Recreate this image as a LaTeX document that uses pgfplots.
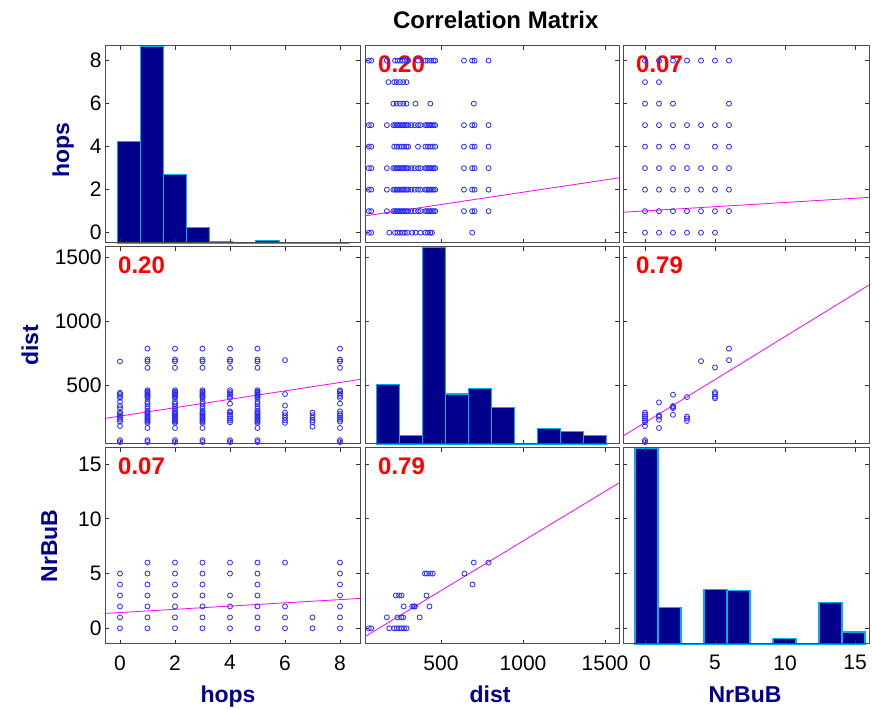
\documentclass[border=0pt]{standalone}
\usepackage{pgfplots}
\usepackage{pgfplotstable}
\pgfplotsset{compat=1.18}
\usepackage{fontspec}
\setmainfont{Liberation Sans}
\definecolor{barnavy}{RGB}{0,0,140}
\definecolor{labnavy}{RGB}{0,0,140}
\definecolor{magline}{RGB}{255,0,255}
\definecolor{ptblue}{RGB}{40,40,255}

% (hops, dist) pairs
\pgfplotstableread[row sep=\\]{
h d\\
0 60\\ 0 75\\ 0 185\\ 0 220\\ 0 235\\ 0 250\\ 0 265\\ 0 280\\ 0 295\\ 0 325\\ 0 345\\ 0 375\\ 0 405\\ 0 420\\ 0 435\\ 0 445\\ 0 690\\
1 60\\ 1 75\\ 1 170\\ 1 210\\ 1 220\\ 1 230\\ 1 240\\ 1 250\\ 1 260\\ 1 270\\ 1 280\\ 1 290\\ 1 300\\ 1 320\\ 1 340\\ 1 360\\ 1 375\\ 1 405\\ 1 415\\ 1 425\\ 1 435\\ 1 445\\ 1 455\\ 1 465\\ 1 640\\ 1 690\\ 1 705\\ 1 790\\
2 60\\ 2 75\\ 2 170\\ 2 210\\ 2 220\\ 2 230\\ 2 240\\ 2 250\\ 2 260\\ 2 270\\ 2 280\\ 2 290\\ 2 300\\ 2 320\\ 2 340\\ 2 360\\ 2 375\\ 2 405\\ 2 415\\ 2 425\\ 2 435\\ 2 445\\ 2 455\\ 2 465\\ 2 640\\ 2 690\\ 2 705\\ 2 790\\
3 60\\ 3 75\\ 3 170\\ 3 210\\ 3 220\\ 3 230\\ 3 240\\ 3 250\\ 3 260\\ 3 270\\ 3 280\\ 3 290\\ 3 300\\ 3 320\\ 3 340\\ 3 360\\ 3 375\\ 3 405\\ 3 415\\ 3 425\\ 3 435\\ 3 445\\ 3 455\\ 3 465\\ 3 640\\ 3 690\\ 3 705\\ 3 790\\
4 60\\ 4 75\\ 4 215\\ 4 230\\ 4 245\\ 4 260\\ 4 275\\ 4 290\\ 4 300\\ 4 360\\ 4 405\\ 4 420\\ 4 435\\ 4 450\\ 4 465\\ 4 640\\ 4 690\\ 4 705\\ 4 790\\
5 60\\ 5 75\\ 5 170\\ 5 210\\ 5 220\\ 5 230\\ 5 240\\ 5 250\\ 5 260\\ 5 270\\ 5 280\\ 5 290\\ 5 300\\ 5 320\\ 5 340\\ 5 360\\ 5 375\\ 5 405\\ 5 415\\ 5 425\\ 5 435\\ 5 445\\ 5 455\\ 5 465\\ 5 640\\ 5 690\\ 5 705\\ 5 790\\
6 210\\ 6 230\\ 6 250\\ 6 270\\ 6 290\\ 6 345\\ 6 435\\ 6 700\\
7 180\\ 7 215\\ 7 230\\ 7 250\\ 7 270\\ 7 290\\
8 60\\ 8 75\\ 8 170\\ 8 220\\ 8 235\\ 8 250\\ 8 265\\ 8 280\\ 8 300\\ 8 360\\ 8 405\\ 8 420\\ 8 440\\ 8 455\\ 8 465\\ 8 640\\ 8 690\\ 8 705\\ 8 790\\
}\HD

% (hops, NrBuB) pairs
\pgfplotstableread[row sep=\\]{
h n\\
0 0\\ 0 1\\ 0 2\\ 0 3\\ 0 4\\ 0 5\\
1 0\\ 1 1\\ 1 2\\ 1 3\\ 1 4\\ 1 5\\ 1 6\\
2 0\\ 2 1\\ 2 2\\ 2 3\\ 2 4\\ 2 5\\ 2 6\\
3 0\\ 3 1\\ 3 2\\ 3 3\\ 3 4\\ 3 5\\ 3 6\\
4 0\\ 4 1\\ 4 2\\ 4 3\\ 4 5\\ 4 6\\
5 0\\ 5 1\\ 5 2\\ 5 3\\ 5 4\\ 5 5\\ 5 6\\
6 0\\ 6 1\\ 6 2\\ 6 6\\
7 0\\ 7 1\\
8 0\\ 8 1\\ 8 2\\ 8 3\\ 8 4\\ 8 5\\ 8 6\\
}\HN

% (dist, NrBuB) pairs
\pgfplotstableread[row sep=\\]{
d n\\
60 0\\ 75 0\\ 185 0\\ 215 0\\ 230 0\\ 245 0\\ 260 0\\ 275 0\\ 290 0\\
170 1\\ 235 1\\ 258 1\\ 270 1\\ 370 1\\
273 2\\ 325 2\\ 335 2\\ 342 2\\ 430 2\\
225 3\\ 245 3\\ 260 3\\ 412 3\\
692 4\\
402 5\\ 414 5\\ 435 5\\ 450 5\\ 643 5\\
700 6\\ 790 6\\
}\DN

\pgfplotsset{
  panel/.style={scale only axis, anchor=south west,
    axis line style={draw=black!70, line width=1pt},
    tick style={black!80, line width=0.7pt}, major tick length=4pt,
    xticklabels={}, yticklabels={},
    tick label style={font=\fontsize{21}{25}\selectfont, black},
    xticklabel style={yshift=-8pt},
    scaled ticks=false, clip=true},
  histax/.style={scale only axis, anchor=south west, hide axis, ymin=0, ymax=260, clip=false},
  col1/.style={xmin=-0.545, xmax=8.727, xtick={0,2,4,6,8}, width=255pt},
  col2/.style={xmin=37, xmax=1585, xtick={500,1000,1500}, width=254pt},
  col3/.style={xmin=-1.57, xmax=16.0, xtick={0,5,10,15}, width=246pt},
  row1/.style={ymin=-0.48, ymax=8.68, ytick={0,2,4,6,8}, height=197pt},
  row2/.style={ymin=45, ymax=1584, ytick={500,1000,1500}, height=197pt},
  row3/.style={ymin=-1.43, ymax=16.46, ytick={0,5,10,15}, height=196pt},
  pts/.style={only marks, mark=o, mark size=2.5pt, ptblue, mark options={line width=0.8pt}},
  fitline/.style={no marks, magline, line width=0.8pt},
  hbars/.style={ybar interval, fill=barnavy, draw=cyan, line width=1.2pt},
}
\tikzset{
  corr/.style={anchor=north west, inner sep=0pt, text=red, font=\fontsize{24}{28}\selectfont\bfseries, xshift=13pt, yshift=-10pt},
}

\begin{document}
\begin{tikzpicture}
\useasboundingbox (0,0) rectangle (872pt,709pt);

% ---------- row 1 ----------
\begin{axis}[histax, col1, height=197pt, at={(105pt,466pt)}]
\addplot[hbars] coordinates {(-0.1,134) (0.74,260) (1.58,90) (2.42,20) (3.26,2) (4.1,0) (4.94,3) (5.78,1) (6.62,1) (7.46,1) (8.3,1)};
\end{axis}
\begin{axis}[panel, col1, row1, at={(105pt,466pt)}, yticklabels={0,2,4,6,8}]
\end{axis}

\begin{axis}[panel, col2, row1, at={(365pt,466pt)}]
\addplot[pts] table[x=d, y=h] {\HD};
\addplot[fitline] coordinates {(37,0.78) (1585,2.55)};
\node[corr] at (rel axis cs:0,1) {0.20};
\end{axis}

\begin{axis}[panel, col3, row1, at={(623pt,466pt)}]
\addplot[pts] table[x=n, y=h] {\HN};
\addplot[fitline] coordinates {(-1.57,0.95) (16.0,1.64)};
\node[corr] at (rel axis cs:0,1) {0.07};
\end{axis}

% ---------- row 2 ----------
\begin{axis}[panel, col1, row2, at={(105pt,265pt)}, yticklabels={500,1000,1500}]
\addplot[pts] table[x=h, y=d] {\HD};
\addplot[fitline] coordinates {(-0.545,245) (8.727,549.5)};
\node[corr] at (rel axis cs:0,1) {0.20};
\end{axis}

\begin{axis}[histax, col2, height=197pt, at={(365pt,265pt)}]
\addplot[hbars] coordinates {(108,79) (248.2,11) (388.4,260) (528.6,66) (668.8,73) (809,48) (949.2,0) (1089.4,20) (1229.6,17) (1369.8,11) (1510,11)};
\end{axis}
\begin{axis}[panel, col2, row2, at={(365pt,265pt)}]
\end{axis}

\begin{axis}[panel, col3, row2, at={(623pt,265pt)}]
\addplot[pts] table[x=n, y=d] {\DN};
\addplot[fitline] coordinates {(-1.57,107) (16.0,1287)};
\node[corr] at (rel axis cs:0,1) {0.79};
\end{axis}

% ---------- row 3 ----------
\begin{axis}[panel, col1, row3, at={(105pt,65pt)}, yticklabels={0,5,10,15}, xticklabels={0,2,4,6,8}]
\addplot[pts] table[x=h, y=n] {\HN};
\addplot[fitline] coordinates {(-0.545,1.36) (8.727,2.73)};
\node[corr] at (rel axis cs:0,1) {0.07};
\end{axis}

\begin{axis}[panel, col2, row3, at={(365pt,65pt)}, xticklabels={500,1000,1500}]
\addplot[pts] table[x=d, y=n] {\DN};
\addplot[fitline] coordinates {(37,-0.76) (1585,13.27)};
\node[corr] at (rel axis cs:0,1) {0.79};
\end{axis}

\begin{axis}[histax, col3, height=196pt, at={(623pt,65pt)}]
\addplot[hbars] coordinates {(-0.714,260) (0.929,48) (2.572,0) (4.215,72) (5.858,71) (7.501,0) (9.144,7) (10.787,0) (12.43,55) (14.073,16) (15.716,16)};
\end{axis}
\begin{axis}[panel, col3, row3, at={(623pt,65pt)}, xticklabels={0,5,10,15}]
\end{axis}

% ---------- titles and labels ----------
\node[anchor=base, font=\fontsize{24}{28}\selectfont\bfseries] at (495.8pt,680.7pt) {Correlation Matrix};
\node[anchor=base, rotate=90, text=labnavy, font=\fontsize{23}{27}\selectfont\bfseries] at (69pt,558.5pt) {hops};
\node[anchor=base, rotate=90, text=labnavy, font=\fontsize{23}{27}\selectfont\bfseries] at (38pt,363.5pt) {dist};
\node[anchor=base, rotate=90, text=labnavy, font=\fontsize{23}{27}\selectfont\bfseries] at (57pt,163pt) {NrBuB};
\node[anchor=base, text=labnavy, font=\fontsize{23}{27}\selectfont\bfseries] at (228pt,7pt) {hops};
\node[anchor=base, text=labnavy, font=\fontsize{23}{27}\selectfont\bfseries] at (490pt,7pt) {dist};
\node[anchor=base, text=labnavy, font=\fontsize{23}{27}\selectfont\bfseries] at (745pt,7pt) {NrBuB};
\end{tikzpicture}
\end{document}
